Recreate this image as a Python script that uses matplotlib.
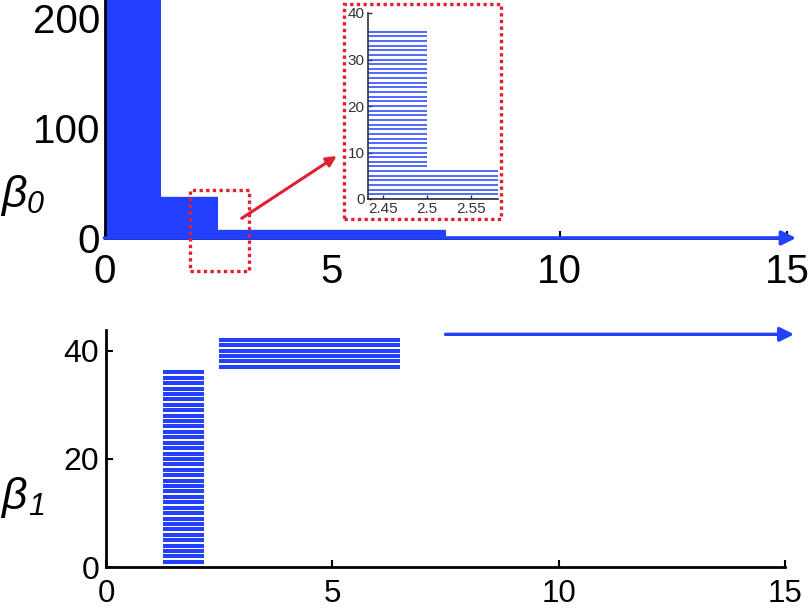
import numpy as np
import matplotlib
matplotlib.use("Agg")
import matplotlib.pyplot as plt
from matplotlib.patches import Rectangle, FancyArrowPatch

plt.rcParams["font.family"] = ["Liberation Sans", "DejaVu Sans"]

# %%
# beta0 barcode: all bars born at 0, grouped by death value
B0_DEATH = [np.inf, 7.5, 2.5, 1.25]
B0_COUNT = [1, 6, 30, 180]

# beta1 barcode: groups of (birth, death, number of bars), rows start at 1
B1_BIRTH = [1.25, 2.5, 7.5]
B1_DEATH = [2.17, 6.5, np.inf]
B1_COUNT = [36, 6, 1]

X_TICKS = [0, 5, 10, 15]
B0_YTICKS = [0, 100, 200]
B1_YTICKS = [0, 20, 40]
INSET_XTICKS = [2.45, 2.5, 2.55]
INSET_XLABELS = ["2.45", "2.5", "2.55"]
INSET_YTICKS = [0, 10, 20, 30, 40]

BLUE = "#2340ff"
RED = "#e0202e"
XMAX = 15
ARROW_END = 15.2

W, H = 810, 612

# %%
b0_end = np.repeat(B0_DEATH, B0_COUNT)
b0_start = np.zeros_like(b0_end)
b0_rows = np.arange(len(b0_end))

b1_start = np.repeat(B1_BIRTH, B1_COUNT)
b1_end = np.repeat(B1_DEATH, B1_COUNT)
b1_rows = np.arange(1, len(b1_end) + 1)


def fig_box(x0, y0, x1, y1):
    # pixel box (top-left origin) -> figure fraction [left, bottom, w, h]
    return [x0 / W, 1 - y1 / H, (x1 - x0) / W, (y1 - y0) / H]


def draw_barcode(ax, rows, start, end, lw, arrow_lw):
    fin = np.isfinite(end)
    ax.hlines(rows[fin], start[fin], end[fin], color=BLUE, lw=lw)
    for r, s in zip(rows[~fin], start[~fin]):
        ax.annotate("", xy=(ARROW_END, r), xytext=(s, r),
                    arrowprops=dict(arrowstyle="-|>", color=BLUE, lw=arrow_lw,
                                    mutation_scale=21, shrinkA=0, shrinkB=0),
                    annotation_clip=False)


def style_axes(ax, xsize, ysize, xpad, ypad):
    for s in ["top", "right"]:
        ax.spines[s].set_visible(False)
    for s in ["left", "bottom"]:
        ax.spines[s].set_linewidth(2)
    ax.tick_params(direction="in", length=5, width=1.5)
    ax.tick_params(axis="x", labelsize=xsize, pad=xpad)
    ax.tick_params(axis="y", labelsize=ysize, pad=ypad)


fig = plt.figure(figsize=(W / 100, H / 100), dpi=100)

# top panel (beta0)
ax0 = fig.add_axes(fig_box(104.5, 0.4, 787, 238))
draw_barcode(ax0, b0_rows, b0_start, b0_end, lw=1.7, arrow_lw=2.6)
ax0.set_xlim(0, XMAX)
ax0.set_ylim(0, 216)
ax0.set_xticks(X_TICKS)
ax0.set_yticks(B0_YTICKS)
style_axes(ax0, 29, 29, 11, 3)

# bottom panel (beta1)
ax1 = fig.add_axes(fig_box(106, 330, 785, 567.3))
draw_barcode(ax1, b1_rows, b1_start, b1_end, lw=2.9, arrow_lw=2.4)
ax1.set_xlim(0, XMAX)
ax1.set_ylim(0, 43.8)
ax1.set_xticks(X_TICKS)
ax1.set_yticks(B1_YTICKS)
style_axes(ax1, 22.5, 23, 8.5, 5)

# zoom window on the top panel
ax0.add_patch(Rectangle((1.89, -29.7), 1.29, 73.3, fill=False, ec=RED,
                        lw=2.4, ls=(0, (1, 1)), clip_on=False, zorder=5))

# inset
axin = fig.add_axes(fig_box(368, 13, 498, 199))
axin.hlines(b0_rows, b0_start, np.minimum(b0_end, 100), color=BLUE, lw=1.1)
axin.set_xlim(2.433, 2.58)
axin.set_ylim(0, 40)
axin.set_xticks(INSET_XTICKS)
axin.set_xticklabels(INSET_XLABELS)
axin.set_yticks(INSET_YTICKS)
for s in ["top", "right"]:
    axin.spines[s].set_visible(False)
for s in ["left", "bottom"]:
    axin.spines[s].set_linewidth(1.2)
    axin.spines[s].set_color("#333333")
axin.tick_params(direction="in", length=3, width=1, labelsize=11,
                 colors="#333333", pad=2.5)

fig.add_artist(Rectangle((344 / W, 1 - 219 / H), 157 / W, 215 / H,
                         transform=fig.transFigure, fill=False, ec=RED,
                         lw=2.4, ls=(0, (1, 1))))
fig.add_artist(FancyArrowPatch((241.7 / W, 1 - 218.3 / H),
                               (336.7 / W, 1 - 156 / H),
                               transform=fig.transFigure, arrowstyle="-|>",
                               mutation_scale=15, color=RED, lw=2.2,
                               shrinkA=0, shrinkB=0))

# axis labels
fig.text(1 / W, 1 - 207 / H, "β", fontsize=32, style="italic", va="baseline")
fig.text(27 / W, 1 - 213 / H, "0", fontsize=22, style="italic", va="baseline")
fig.text(1 / W, 1 - 509 / H, "β", fontsize=32, style="italic", va="baseline")
fig.text(28 / W, 1 - 515 / H, "1", fontsize=22, style="italic", va="baseline")

fig.savefig("out.png", dpi=100)
